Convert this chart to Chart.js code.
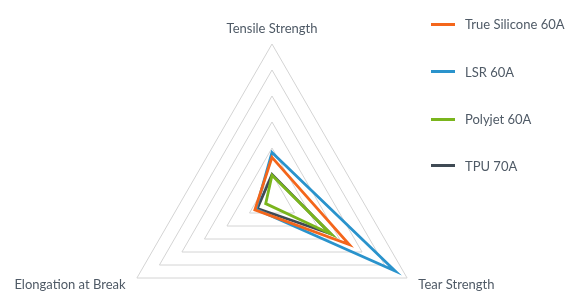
<!DOCTYPE html>
<html>
<head>
<meta charset="utf-8">
<script src="https://cdn.jsdelivr.net/npm/chart.js@4/dist/chart.umd.min.js"></script>
<style>
  html, body { margin: 0; padding: 0; background: #fff; }
  body { width: 570px; height: 308px; overflow: hidden; position: relative; font-family: Lato, "Noto Sans", sans-serif; }
  #wrap { position: absolute; left: -40px; top: 0; width: 650px; height: 364px; }
  #legend { position: absolute; left: 0; top: 0; }
  .item { position: absolute; left: 431px; height: 20px; line-height: 20px; white-space: nowrap; font-size: 13px; color: #4f5a66; }
  .item i { position: absolute; left: 0; top: 8.5px; width: 24px; height: 3px; }
  .item span { position: absolute; left: 34px; top: 0; }
</style>
</head>
<body>
<div id="wrap"><canvas id="radar" width="650" height="364"></canvas></div>
<div id="legend"></div>
<script>
// axes, clockwise from the top
var axisLabels = ['Tensile Strength', 'Tear Strength', 'Elongation at Break'];

var seriesNames = ['True Silicone 60A', 'LSR 60A', 'Polyjet 60A', 'TPU 70A'];
var seriesColors = ['#f4661b', '#2a93cc', '#7ab51d', '#3f4a54'];

var trueSilicone = [1.64, 3.43, 0.76];
var lsr = [1.83, 5.47, 0.71];
var polyjet = [0.95, 2.63, 0.28];
var tpu = [0.98, 2.6, 0.65];

var legendRows = [24, 71.5, 119, 165.5];

var values = [trueSilicone, lsr, polyjet, tpu];
var textColor = '#4f5a66';

var datasets = values.map(function(v, i){
	return {
		label: seriesNames[i],
		data: v,
		borderColor: seriesColors[i],
		backgroundColor: seriesColors[i],
		borderWidth: 2.8,
		borderJoinStyle: 'miter',
		fill: false,
		pointRadius: 0,
		pointHoverRadius: 0
	};
});

var chart = new Chart(document.getElementById('radar'), {
	type: 'radar',
	data: { labels: axisLabels, datasets: datasets },
	options: {
		responsive: false,
		animation: false,
		layout: { padding: { top: 22, right: 26, bottom: 0, left: 0 } },
		plugins: { legend: { display: false }, tooltip: { enabled: false } },
		scales: {
			r: {
				min: 0,
				max: 6,
				ticks: { display: false, stepSize: 1 },
				angleLines: { display: false },
				grid: { color: '#d4d4d4', lineWidth: 1 },
				pointLabels: {
					color: textColor,
					font: { family: 'Lato', size: 13, lineHeight: 0 },
					padding: function(ctx){ return ctx.index === 0 ? 15 : 13; }
				}
			}
		}
	}
});

// legend on the right, drawn as html
var legend = document.getElementById('legend');
seriesNames.forEach(function(name, i){
	var row = document.createElement('div');
	row.className = 'item';
	row.style.top = (legendRows[i] - 10) + 'px';
	var mark = document.createElement('i');
	mark.style.background = seriesColors[i];
	var txt = document.createElement('span');
	txt.textContent = name;
	row.appendChild(mark);
	row.appendChild(txt);
	legend.appendChild(row);
});
</script>
</body>
</html>
